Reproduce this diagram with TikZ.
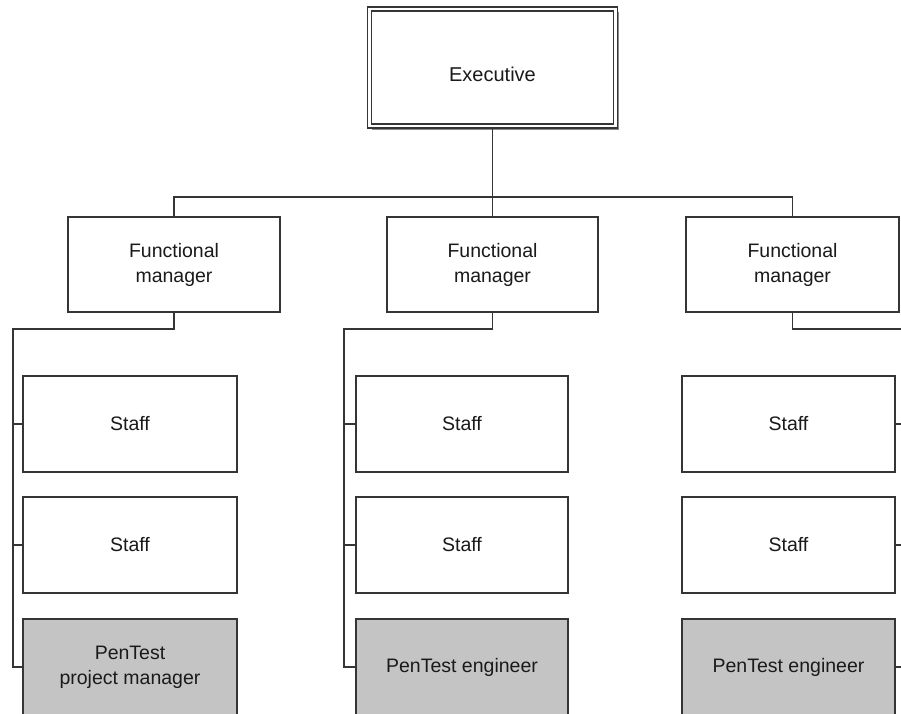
\documentclass[tikz,border=0pt]{standalone}
\usepackage{fontspec}
\setmainfont{Liberation Sans}
\definecolor{linec}{HTML}{353535}
\definecolor{textc}{HTML}{1A1A1A}
\definecolor{pengray}{HTML}{C4C4C4}
\definecolor{shadowc}{HTML}{8A8A8A}
\tikzset{
  box/.style={draw=linec, line width=2pt, fill=white, rectangle, inner sep=0pt,
    align=center, text=textc, font=\fontsize{19.5}{25}\selectfont},
  staffbox/.style={box, minimum height=96pt},
  penbox/.style={staffbox, fill=pengray},
  fmbox/.style={box, minimum height=95pt},
  conn/.style={draw=linec, line width=1.8pt}
}
\begin{document}
\begin{tikzpicture}[x=1pt,y=-1pt]
\useasboundingbox (0,0) rectangle (901,713);
\clip (0,0) rectangle (901,713);
\fill[white] (0,0) rectangle (901,713);
% executive with shadow and double border
\fill[shadowc] (372,12) rectangle (619,130);
\node[box, minimum width=246pt, minimum height=117pt, double=white, double distance=2.2pt, line width=1.5pt] (exec) at (492.5,67.5) {};
\node[text=textc, font=\fontsize{20}{25}\selectfont, inner sep=0pt] (exectext) at (492.5,74) {Executive};
% functional managers
\node[fmbox, minimum width=212pt] (fmL) at (174,264.5) {Functional\\manager};
\node[fmbox, minimum width=211pt] (fmM) at (492.5,264.5) {Functional\\manager};
\node[fmbox, minimum width=213pt] (fmR) at (792.5,264.5) {Functional\\manager};
% staff columns
\node[staffbox, minimum width=214pt] (s1L) at (130,424) {Staff};
\node[staffbox, minimum width=214pt] (s2L) at (130,545) {Staff};
\node[penbox, minimum width=214pt] (pmL) at (130,667) {PenTest\\project manager};
\node[staffbox, minimum width=212pt] (s1M) at (462,424) {Staff};
\node[staffbox, minimum width=212pt] (s2M) at (462,545) {Staff};
\node[penbox, minimum width=212pt] (pmM) at (462,667) {PenTest engineer};
\node[staffbox, minimum width=213pt] (s1R) at (788.5,424) {Staff};
\node[staffbox, minimum width=213pt] (s2R) at (788.5,545) {Staff};
\node[penbox, minimum width=213pt] (pmR) at (788.5,667) {PenTest engineer};
% bus coordinates
\coordinate (bus) at (0,197);
\coordinate (spineL) at (13,329);
\coordinate (spineM) at (344,329);
\coordinate (spineR) at (906,329);
% top connectors
\draw[conn] (exec.south) -- (exec.south |- bus);
\draw[conn] (fmL.north) -- (fmL.north |- bus) -- (fmR.north |- bus) -- (fmR.north);
\draw[conn] (fmM.north) -- (fmM.north |- bus);
% left column
\draw[conn] (fmL.south) |- (spineL) |- (pmL.west);
\draw[conn] (spineL |- s1L.west) -- (s1L.west);
\draw[conn] (spineL |- s2L.west) -- (s2L.west);
% middle column
\draw[conn] (fmM.south) |- (spineM) |- (pmM.west);
\draw[conn] (spineM |- s1M.west) -- (s1M.west);
\draw[conn] (spineM |- s2M.west) -- (s2M.west);
% right column
\draw[conn] (fmR.south) |- (spineR) |- (pmR.east);
\draw[conn] (spineR |- s1R.east) -- (s1R.east);
\draw[conn] (spineR |- s2R.east) -- (s2R.east);
\end{tikzpicture}
\end{document}
